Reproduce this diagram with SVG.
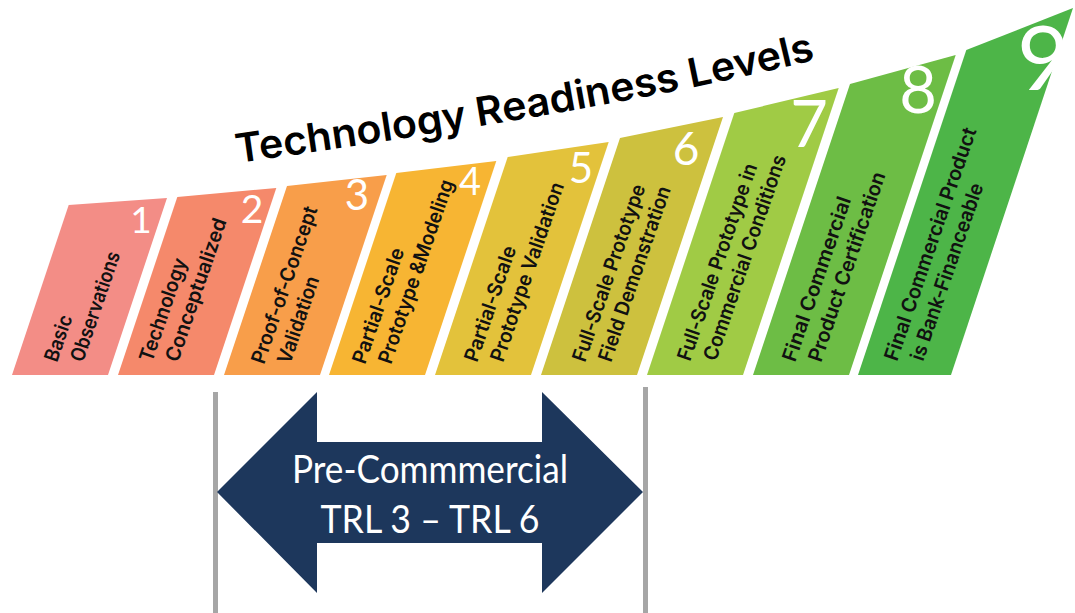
<svg xmlns="http://www.w3.org/2000/svg" width="1075" height="613" viewBox="0 0 1075 613">
  <defs>
    <style>
      .lbl { font-family: Inter, "Noto Sans", "Liberation Sans", sans-serif; font-weight: 600; font-size: 20px; fill: #111; }
      .num { font-family: Lato, "Open Sans", "Liberation Sans", sans-serif; font-weight: 400; fill: #ffffff; text-anchor: middle; }
      .title { font-family: Inter, "Noto Sans", "Liberation Sans", sans-serif; font-weight: 600; font-size: 40px; fill: #000; }
      .arrowtxt { font-family: Lato, "Open Sans", "Liberation Sans", sans-serif; font-size: 38px; fill: #ffffff; text-anchor: middle; }
      .rng { stroke: #a6a6a6; stroke-width: 5; }
    </style>
    <path id="titlePath" d="M 237 163 Q 612 110 806 62" fill="none"/>
  </defs>
  <rect width="1075" height="613" fill="#ffffff"/>

  <g id="title">
    <text class="title"><textPath href="#titlePath" textLength="588" lengthAdjust="spacingAndGlyphs">Technology Readiness Levels</textPath></text>
  </g>

  <g id="trl1">
    <polygon points="12,375 108,375 167,198 68.7,205" fill="#f38d86"/>
    <text class="num" x="141" y="233" font-size="37">1</text>
    <text class="lbl" transform="translate(57,363) rotate(-71)"><tspan x="0" y="0" textLength="48" lengthAdjust="spacingAndGlyphs">Basic</tspan><tspan x="8.5" y="24.6" textLength="115" lengthAdjust="spacingAndGlyphs">Observations</tspan></text>
  </g>
  <g id="trl2">
    <polygon points="118,375 214,375 276.3,188 177.3,197" fill="#f5896b"/>
    <text class="num" x="252" y="223" font-size="39">2</text>
    <text class="lbl" transform="translate(152,363) rotate(-71)"><tspan x="0" y="0" textLength="108" lengthAdjust="spacingAndGlyphs">Technology</tspan><tspan x="8.5" y="24.6" textLength="150" lengthAdjust="spacingAndGlyphs">Conceptualized</tspan></text>
  </g>
  <g id="trl3">
    <polygon points="224,375 320,375 386.7,175 287,186" fill="#f89e4a"/>
    <text class="num" x="357" y="210" font-size="42">3</text>
    <text class="lbl" transform="translate(264,365) rotate(-71)"><tspan x="0" y="0" textLength="165" lengthAdjust="spacingAndGlyphs">Proof-of-Concept</tspan><tspan x="8.5" y="24.6" textLength="91" lengthAdjust="spacingAndGlyphs">Validation</tspan></text>
  </g>
  <g id="trl4">
    <polygon points="329,375 425,375 496.3,161 396.3,173" fill="#f7b533"/>
    <text class="num" x="470" y="195" font-size="38">4</text>
    <text class="lbl" transform="translate(365,365) rotate(-71)"><tspan x="0" y="0" textLength="121" lengthAdjust="spacingAndGlyphs">Partial-Scale</tspan><tspan x="8.5" y="24.6" textLength="193" lengthAdjust="spacingAndGlyphs">Prototype &amp;Modeling</tspan></text>
  </g>
  <g id="trl5">
    <polygon points="435,375 531,375 608.7,142 507.7,157" fill="#e3c23b"/>
    <text class="num" x="581" y="183" font-size="42">5</text>
    <text class="lbl" transform="translate(477,363) rotate(-71)"><tspan x="0" y="0" textLength="121" lengthAdjust="spacingAndGlyphs">Partial-Scale</tspan><tspan x="8.5" y="24.6" textLength="188" lengthAdjust="spacingAndGlyphs">Prototype Validation</tspan></text>
  </g>
  <g id="trl6">
    <polygon points="541,375 637,375 723,117 620,138" fill="#cdc13e"/>
    <text class="num" x="686" y="165" font-size="46">6</text>
    <text class="lbl" transform="translate(585,363) rotate(-71)"><tspan x="0" y="0" textLength="186" lengthAdjust="spacingAndGlyphs">Full-Scale Prototype</tspan><tspan x="8.5" y="24.6" textLength="184" lengthAdjust="spacingAndGlyphs">Field Demonstration</tspan></text>
  </g>
  <g id="trl7">
    <polygon points="647,375 743,375 838.7,88 734.3,113" fill="#a0cb45"/>
    <text class="num" x="809" y="147" font-size="65">7</text>
    <text class="lbl" transform="translate(690,362) rotate(-71)"><tspan x="0" y="0" textLength="207" lengthAdjust="spacingAndGlyphs">Full-Scale Prototype in</tspan><tspan x="8.5" y="24.6" textLength="216" lengthAdjust="spacingAndGlyphs">Commercial Conditions</tspan></text>
  </g>
  <g id="trl8">
    <polygon points="753,375 849,375 955.7,55 850,84" fill="#6dbd45"/>
    <text class="num" x="918" y="113" font-size="65">8</text>
    <text class="lbl" transform="translate(795,363) rotate(-71)"><tspan x="0" y="0" textLength="173" lengthAdjust="spacingAndGlyphs">Final Commercial</tspan><tspan x="8.5" y="24.6" textLength="199" lengthAdjust="spacingAndGlyphs">Product Certification</tspan></text>
  </g>
  <g id="trl9">
    <polygon points="858,375 951,375 1073,8 966.3,50" fill="#4db548"/>
    <text class="num" x="1043" y="90" font-size="90">9</text>
    <text class="lbl" transform="translate(897,362) rotate(-71)"><tspan x="0" y="0" textLength="245" lengthAdjust="spacingAndGlyphs">Final Commercial Product</tspan><tspan x="8.5" y="24.6" textLength="186" lengthAdjust="spacingAndGlyphs">is Bank-Financeable</tspan></text>
  </g>

  <g id="range-lines">
    <line class="rng" x1="215.5" y1="392" x2="215.5" y2="613"/>
    <line class="rng" x1="645.5" y1="387" x2="645.5" y2="613"/>
  </g>

  <g id="pre-commercial">
    <polygon points="217,492 317,392 317,442 542,442 542,392 643,492 542,593 542,543 317,543 317,593" fill="#1d375c"/>
    <text class="arrowtxt" x="430" y="483" textLength="276" lengthAdjust="spacingAndGlyphs">Pre-Commmercial</text>
    <text class="arrowtxt" x="430" y="533" textLength="219" lengthAdjust="spacingAndGlyphs">TRL 3 – TRL 6</text>
  </g>
</svg>
